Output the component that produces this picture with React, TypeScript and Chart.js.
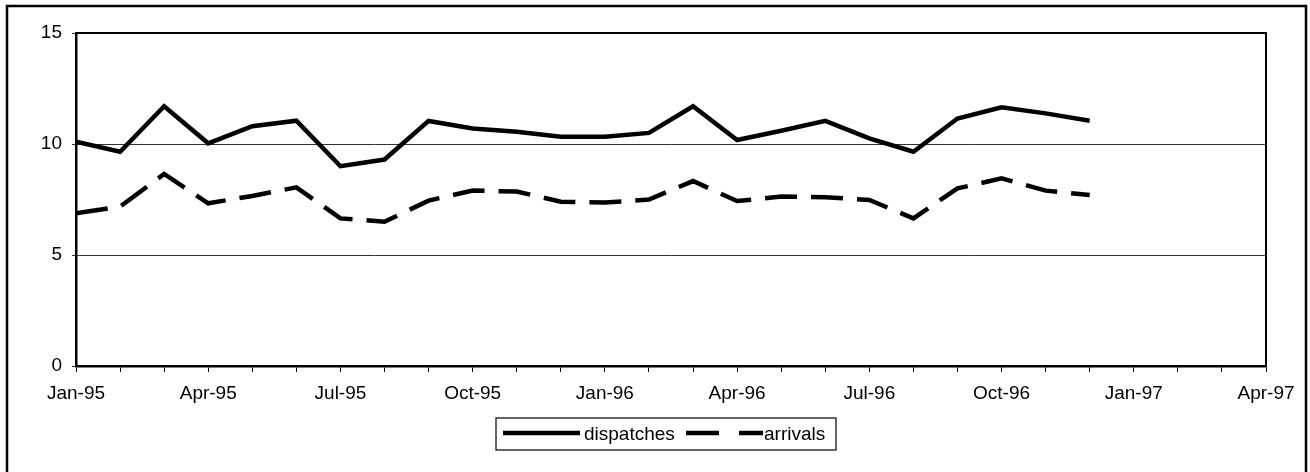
import React, { useEffect, useRef } from "react";
import { Chart, registerables } from "chart.js";

Chart.register(...registerables);

const months = [
  "Jan-95", "Feb-95", "Mar-95", "Apr-95", "May-95", "Jun-95", "Jul-95", "Aug-95", "Sep-95", "Oct-95", "Nov-95", "Dec-95",
  "Jan-96", "Feb-96", "Mar-96", "Apr-96", "May-96", "Jun-96", "Jul-96", "Aug-96", "Sep-96", "Oct-96", "Nov-96", "Dec-96",
];
const dispatches = [10.1, 9.65, 11.7, 10.03, 10.8, 11.05, 9.0, 9.3, 11.04, 10.7, 10.55, 10.33, 10.33, 10.5, 11.7, 10.18, 10.6, 11.04, 10.25, 9.65, 11.15, 11.65, 11.38, 11.05];
const arrivals = [6.88, 7.18, 8.65, 7.33, 7.66, 8.05, 6.65, 6.5, 7.45, 7.9, 7.86, 7.4, 7.36, 7.5, 8.33, 7.43, 7.63, 7.6, 7.48, 6.65, 8.0, 8.45, 7.9, 7.7];
const xTickLabels = ["Jan-95", "Apr-95", "Jul-95", "Oct-95", "Jan-96", "Apr-96", "Jul-96", "Oct-96", "Jan-97", "Apr-97"];
const seriesNames = ["dispatches", "arrivals"];

const FONT = "'Liberation Sans', Arial, Helvetica, sans-serif";
const DASH = [32, 14];

const framePlugin = {
  id: "frame",
  afterDraw(chart: any) {
    const ctx = chart.ctx;
    const a = chart.chartArea;
    ctx.save();
    ctx.strokeStyle = "#000";
    // plot area top/right border
    ctx.lineWidth = 2;
    ctx.beginPath();
    ctx.moveTo(a.left, a.top);
    ctx.lineTo(a.right, a.top);
    ctx.lineTo(a.right, a.bottom);
    ctx.stroke();
    // outer frame
    ctx.lineWidth = 2.5;
    ctx.strokeRect(7, 6, 1299, 490);
    // legend
    const lx = 496, ly = 418, lw = 340, lh = 32;
    ctx.lineWidth = 1.2;
    ctx.strokeRect(lx, ly, lw, lh);
    const cy = ly + lh / 2;
    ctx.lineWidth = 4.5;
    ctx.lineCap = "butt";
    ctx.beginPath();
    ctx.moveTo(503, cy - 1);
    ctx.lineTo(580, cy - 1);
    ctx.stroke();
    ctx.setLineDash([33, 20]);
    ctx.beginPath();
    ctx.moveTo(686, cy - 1);
    ctx.lineTo(763, cy - 1);
    ctx.stroke();
    ctx.setLineDash([]);
    ctx.fillStyle = "#000";
    ctx.font = `19px ${FONT}`;
    ctx.textBaseline = "middle";
    ctx.textAlign = "left";
    ctx.fillText(seriesNames[0], 584, cy + 1);
    ctx.fillText(seriesNames[1], 764, cy + 1);
    ctx.restore();
  },
};

export default function App() {
  const ref = useRef<HTMLCanvasElement>(null);
  useEffect(() => {
    document.body.style.margin = "0";
    const chart = new Chart(ref.current!, {
      type: "line",
      data: {
        datasets: [
          {
            label: seriesNames[0],
            data: dispatches.map((y, i) => ({ x: i, y })),
            borderColor: "#000",
            borderWidth: 4.5,
            pointRadius: 0,
            tension: 0,
            borderJoinStyle: "miter",
          },
          {
            label: seriesNames[1],
            data: arrivals.map((y, i) => ({ x: i, y })),
            borderColor: "#000",
            borderWidth: 4.5,
            borderDash: DASH,
            pointRadius: 0,
            tension: 0,
            borderJoinStyle: "miter",
          },
        ],
      },
      options: {
        animation: false,
        responsive: false,
        maintainAspectRatio: false,
        layout: { padding: { top: 33, right: 44, bottom: 0, left: 0 } },
        plugins: { legend: { display: false }, tooltip: { enabled: false } },
        scales: {
          x: {
            type: "linear",
            min: 0,
            max: 27,
            afterFit(scale: any) {
              scale.height = 106;
            },
            ticks: {
              stepSize: 1,
              autoSkip: false,
              maxRotation: 0,
              padding: 10,
              color: "#000",
              font: { family: FONT, size: 19 },
              callback: (v: any) => (Number(v) % 3 === 0 ? xTickLabels[Number(v) / 3] : ""),
            },
            grid: { drawOnChartArea: false, color: "#000", lineWidth: 1, tickLength: 6 },
            border: { display: true, color: "#000", width: 2.5 },
          },
          y: {
            min: 0,
            max: 15,
            afterFit(scale: any) {
              scale.width = 76;
            },
            ticks: {
              stepSize: 5,
              padding: 10,
              color: "#000",
              font: { family: FONT, size: 19 },
            },
            grid: { color: "#333", lineWidth: 1, tickLength: 4 },
            border: { display: true, color: "#000", width: 2.5 },
          },
        },
      },
      plugins: [framePlugin],
    });
    return () => chart.destroy();
  }, []);
  return <canvas ref={ref} width={1310} height={472} style={{ display: "block" }} />;
}
